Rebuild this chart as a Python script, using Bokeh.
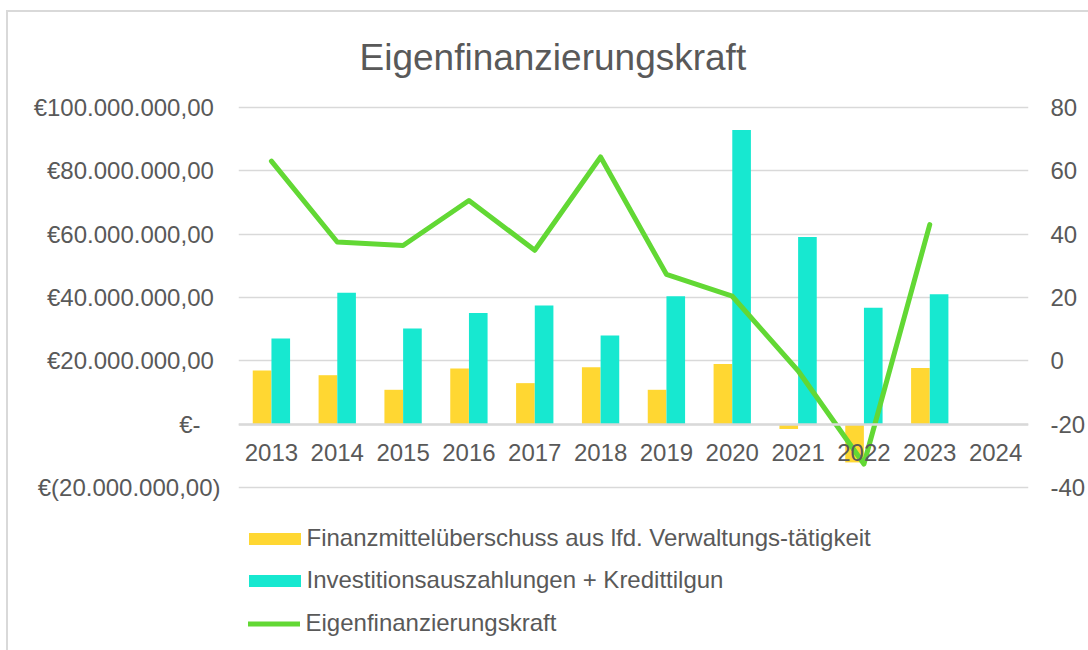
import math
from bokeh.plotting import figure
from bokeh.models import (FactorRange, Range1d, LinearAxis, FixedTicker, Legend,
                          LegendItem, ColumnDataSource)
from bokeh.transform import dodge
from bokeh.embed import file_html
from bokeh.resources import INLINE

nan = math.nan

# ---- data -------------------------------------------------------------
years = ["2013", "2014", "2015", "2016", "2017", "2018",
         "2019", "2020", "2021", "2022", "2023", "2024"]
finanzmittelueberschuss = [16.97e6, 15.5e6, 10.9e6, 17.6e6, 13.0e6, 18.0e6,
                           10.9e6, 19.0e6, -1.45e6, -12.0e6, 17.8e6, nan]
investitionsauszahlungen = [27.1e6, 41.5e6, 30.2e6, 35.1e6, 37.5e6, 28.0e6,
                            40.4e6, 92.8e6, 59.1e6, 36.8e6, 41.0e6, nan]
eigenfinanzierungskraft = [63.0, 37.5, 36.4, 50.6, 34.9, 64.3,
                           27.3, 20.4, -3.1, -32.5, 43.0, nan]

series_names = ["Finanzmittelüberschuss aus lfd. Verwaltungs-tätigkeit",
                "Investitionsauszahlungen + Kredittilgun",
                "Eigenfinanzierungskraft"]

left_ticks = [-20000000, 0, 20000000, 40000000, 60000000, 80000000, 100000000]
left_tick_labels = ["€(20.000.000,00)", "€-", "€20.000.000,00", "€40.000.000,00",
                    "€60.000.000,00", "€80.000.000,00", "€100.000.000,00"]
right_ticks = [-40, -20, 0, 20, 40, 60, 80]
right_tick_labels = ["-40", "-20", "0", "20", "40", "60", "80"]

YELLOW = "#FFD732"
CYAN = "#17E8D0"
GREEN = "#62D834"
TEXT = "#595959"
GRID = "#D9D9D9"
FONT = "Liberation Sans"

# ---- layout (pixels) ----------------------------------------------------
W, H = 1088, 650
FRAME_L, FRAME_R = 238, 1028
FRAME_T = 100                 # frame top; frame runs to the bottom of the canvas
TOP_GRID_PX, BOTTOM_GRID_PX = 106.7, 487.3   # where the highest / lowest tick sit
BORDER_X, BORDER_Y = 6, 10    # outer chart border (top & left edges visible)

px_per_unit = (BOTTOM_GRID_PX - TOP_GRID_PX) / (left_ticks[-1] - left_ticks[0])
y_end = left_ticks[-1] + (TOP_GRID_PX - FRAME_T) / px_per_unit
y_start = left_ticks[0] - (H - BOTTOM_GRID_PX) / px_per_unit

# right axis is a linear map of the left one (ticks line up)
k = (right_ticks[-1] - right_ticks[0]) / (left_ticks[-1] - left_ticks[0])
def to_right(v):
    return right_ticks[0] + (v - left_ticks[0]) * k

# accounting-style alignment of the euro labels (padding after the number)
NB = "\u00a0"
def pad(label):
    if label.endswith(")"):
        return label
    if label.endswith("-"):
        return label + NB * 3
    return label + NB

src = ColumnDataSource(dict(year=years, fin=finanzmittelueberschuss,
                            inv=investitionsauszahlungen,
                            kraft=eigenfinanzierungskraft))

border_css = (
    f"linear-gradient({GRID}, {GRID}) {BORDER_X}px {BORDER_Y}px / "
    f"2px {H - BORDER_Y}px no-repeat, "
    f"linear-gradient({GRID}, {GRID}) {BORDER_X}px {BORDER_Y}px / "
    f"{W - BORDER_X}px 2px no-repeat, white")

p = figure(x_range=FactorRange(factors=years),
           y_range=Range1d(y_start, y_end),
           width=W, height=H, output_backend="svg", toolbar_location=None,
           min_border_left=FRAME_L, min_border_right=W - FRAME_R,
           min_border_top=FRAME_T, min_border_bottom=0,
           outline_line_color=None,
           background_fill_color="white", border_fill_color=None,
           styles={"background": border_css})
p.extra_y_ranges = {"right": Range1d(to_right(y_start), to_right(y_end))}

r1 = p.vbar(x=dodge("year", -0.142, range=p.x_range), top="fin", width=0.283,
            source=src, fill_color=YELLOW, line_color=None)
r2 = p.vbar(x=dodge("year", 0.142, range=p.x_range), top="inv", width=0.283,
            source=src, fill_color=CYAN, line_color=None)
r3 = p.line(x="year", y="kraft", y_range_name="right", source=src,
            line_color=GREEN, line_width=5, line_join="round", line_cap="round")

# x axis at zero
xa = p.xaxis[0]
xa.fixed_location = 0
xa.axis_line_color = GRID
xa.axis_line_width = 2.5
xa.major_tick_line_color = None
xa.minor_tick_line_color = None
xa.major_tick_out = 0
xa.major_tick_in = 0
xa.major_label_standoff = 20
xa.major_label_text_font_size = "24px"
xa.major_label_text_color = TEXT
xa.major_label_text_font = FONT
p.xgrid.visible = False

ya = p.yaxis[0]
ya.ticker = FixedTicker(ticks=left_ticks)
ya.major_label_overrides = {t: pad(l) for t, l in zip(left_ticks, left_tick_labels)}
ya.major_label_standoff = 18

ra = LinearAxis(y_range_name="right", ticker=FixedTicker(ticks=right_ticks),
                major_label_overrides=dict(zip(right_ticks, right_tick_labels)))
ra.major_label_standoff = 22
p.add_layout(ra, "right")

for ax in (ya, ra):
    ax.axis_line_color = None
    ax.major_tick_line_color = None
    ax.minor_tick_line_color = None
    ax.major_tick_out = 0
    ax.major_tick_in = 0
    ax.major_label_text_font_size = "24px"
    ax.major_label_text_color = TEXT
    ax.major_label_text_font = FONT

p.ygrid.ticker = FixedTicker(ticks=left_ticks)
p.ygrid.grid_line_color = GRID
p.ygrid.grid_line_width = 1.5

p.title.text = "Eigenfinanzierungskraft"
p.title.text_font = FONT
p.title.text_font_size = "37px"
p.title.text_font_style = "normal"
p.title.text_color = TEXT
p.title.align = "left"
p.title.offset = 121
p.title.standoff = 45

common = dict(padding=0, margin=0, border_line_color=None,
              background_fill_alpha=0, label_text_font_size="24px",
              label_text_color=TEXT, label_text_font=FONT, label_height=28)
leg1 = Legend(items=[LegendItem(label=series_names[0], renderers=[r1]),
                     LegendItem(label=series_names[1], renderers=[r2])],
              location=(3.5, 56), glyph_width=65, glyph_height=15,
              label_standoff=0, spacing=14, **common)
leg2 = Legend(items=[LegendItem(label=series_names[2], renderers=[r3])],
              location=(9.5, 13), glyph_width=52, glyph_height=15,
              label_standoff=6, spacing=14, **common)
p.add_layout(leg1)
p.add_layout(leg2)

open("out.html", "w").write(file_html(p, INLINE))
